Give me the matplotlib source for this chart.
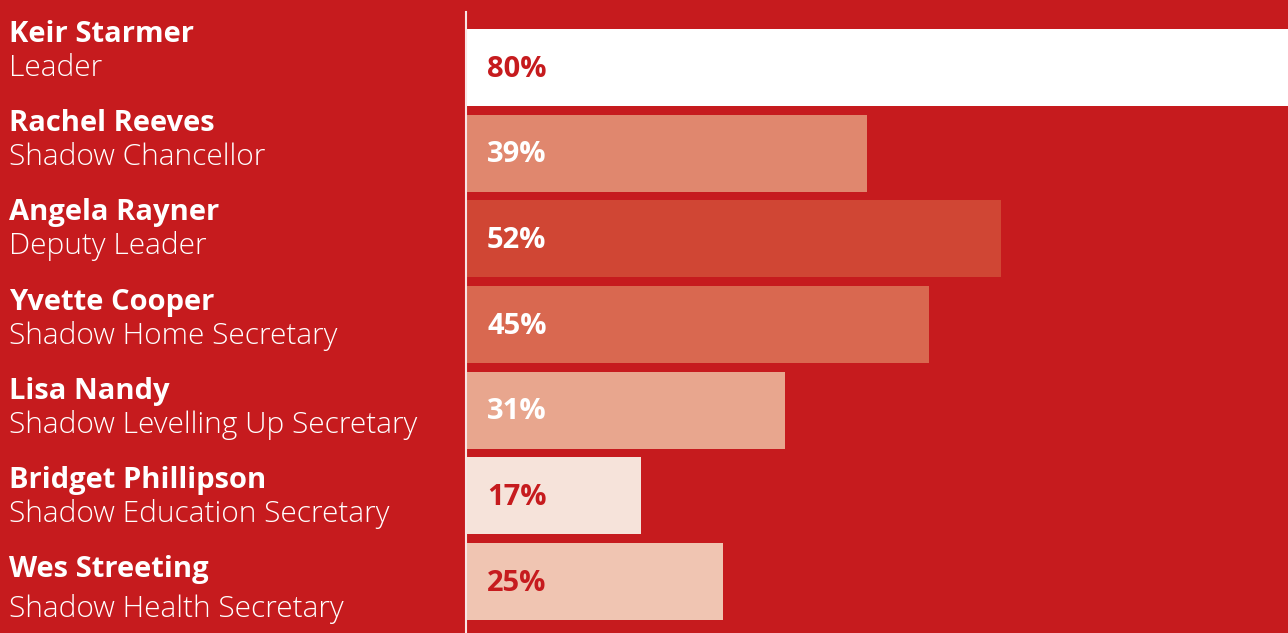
import matplotlib.pyplot as plt
from matplotlib.lines import Line2D

# data
names = ["Keir Starmer", "Rachel Reeves", "Angela Rayner", "Yvette Cooper",
         "Lisa Nandy", "Bridget Phillipson", "Wes Streeting"]
roles = ["Leader", "Shadow Chancellor", "Deputy Leader", "Shadow Home Secretary",
         "Shadow Levelling Up Secretary", "Shadow Education Secretary",
         "Shadow Health Secretary"]
values = [80, 39, 52, 45, 31, 17, 25]

bg = "#C61B1E"
bar_colors = ["#FFFFFF", "#E0876E", "#D04634", "#D96850",
              "#E8A68E", "#F6E3DA", "#F0C5B2"]
label_colors = [bg, "white", "white", "white", "white", bg, bg]

W, H = 1288, 633
fig = plt.figure(figsize=(W / 100, H / 100), dpi=100)
fig.patch.set_facecolor(bg)

x0 = 466 / W
ax = fig.add_axes([x0, 0, 1 - x0, 1])
ax.set_facecolor(bg)

pos = list(range(len(values)))
ax.barh(pos, values, height=0.9, color=bar_colors)
ax.set_xlim(0, 79.9)
ax.set_ylim(6.601, -0.788)
ax.axis("off")

for i, v in enumerate(values):
    ax.text(2.05, i + 0.105, f"{v}%", va="baseline", ha="left", color=label_colors[i],
            fontsize=21, fontweight="bold", family="Open Sans")

# trennlinje
fig.add_artist(Line2D([465.5 / W, 465.5 / W], [0, 1 - 12 / H],
                      color="#F8E6E6", lw=1.5))

# navn og roller
for i in range(len(names)):
    yb = 42 + 89.2 * i
    off = 40 if i == len(names) - 1 else 34
    fig.text(9 / W, 1 - yb / H, names[i], ha="left", va="baseline",
             color="white", fontsize=21, fontweight="bold", family="Open Sans")
    fig.text(9 / W, 1 - (yb + off) / H, roles[i], ha="left", va="baseline",
             color="white", fontsize=21.5, fontweight=300, family="Open Sans")

fig.savefig("out.png", dpi=100, facecolor=bg)
